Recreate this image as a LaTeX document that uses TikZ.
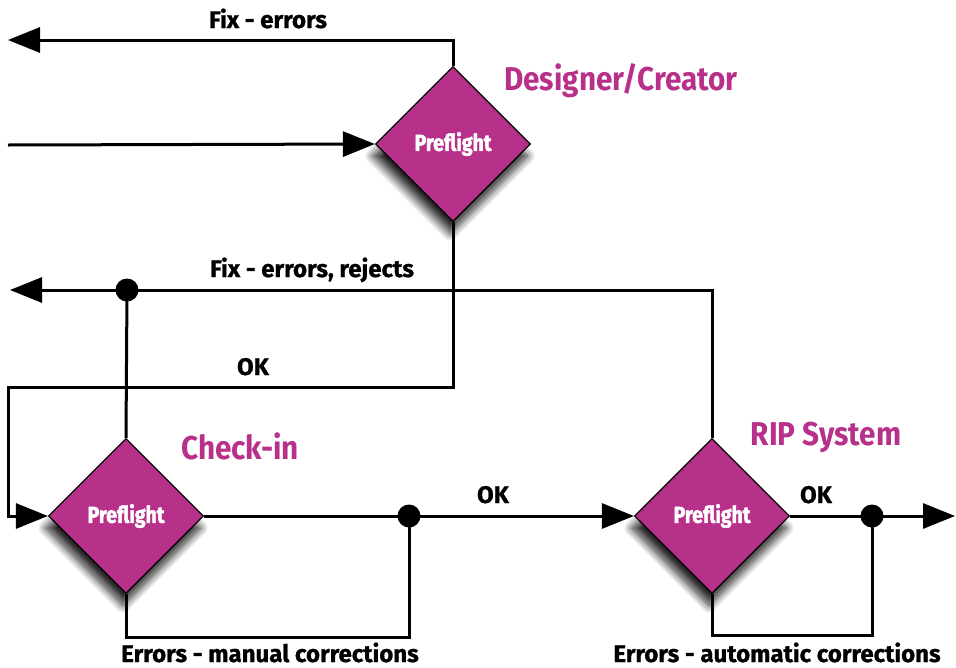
\documentclass[tikz,border=0pt]{standalone}
\usepackage{fontspec}
\usetikzlibrary{shapes.geometric,arrows.meta,shadows.blur}
\newfontfamily\labfont[FakeStretch=1.0,FakeBold=1]{Fira Sans}
\newfontfamily\ttlfont[FakeStretch=0.90]{Fira Sans}
\newfontfamily\pffont[FakeStretch=0.85,FakeBold=2]{Fira Sans}
\definecolor{mag}{RGB}{183,49,138}
\tikzset{
  conn/.style={line width=3pt,black},
  arr/.style={conn,-{Triangle[length=32pt,width=25pt]}},
  pf/.style={diamond,aspect=1,minimum width=155pt,minimum height=155pt,inner sep=0pt,
    fill=mag,draw=black,line width=1.2pt,text=white,
    font=\pffont\bfseries\fontsize{23}{23}\selectfont,
    blur shadow={shadow xshift=-3pt,shadow yshift=-12pt,shadow blur steps=10,shadow blur radius=8pt,shadow opacity=85}},
  dot/.style={circle,fill=black,minimum size=23pt,inner sep=0pt},
  lab/.style={font=\labfont\bfseries\fontsize{24}{24}\selectfont,inner sep=0pt,anchor=base},
  ttl/.style={font=\ttlfont\bfseries\fontsize{33}{33}\selectfont,text=mag,inner sep=0pt,anchor=base},
}
\begin{document}
\begin{tikzpicture}[x=1pt,y=-1pt]
\useasboundingbox (0,0) rectangle (956,667);
% diamonds
\node[pf] (d1) at (453,144) {Preflight};
\node[pf] (d2) at (126,516) {Preflight};
\node[pf] (d3) at (712,516) {Preflight};
% junction dots
\node[dot] (j1) at (127,290) {};
\node[dot] (j2) at (409,516) {};
\node[dot] (j3) at (872,516) {};
% free ends and corners
\coordinate (fixend) at (8,40);
\coordinate (inp) at (8,145);
\coordinate (okc) at (8,387);
\coordinate (rejend) at (10,290);
\coordinate (c2) at (409,637);
\coordinate (c3) at (872,635);
\coordinate (outp) at (955,516);
% connectors
\draw[arr] (d1.north) |- (fixend);
\draw[arr] (inp) -- (d1.west);
\draw[arr] (d1.south) |- (okc) |- (d2.west);
\draw[arr] (d3.north) |- (rejend);
\draw[conn] (d2.north) -- (j1.center);
\draw[arr] (d2.east) -- (d3.west);
\draw[conn] (d2.south) |- (c2) -- (j2.center);
\draw[arr] (d3.east) -- (outp);
\draw[conn] (d3.south) |- (c3) -- (j3.center);
% labels
\node[lab] (l1) at (268,28) {Fix - errors};
\node[lab] (l2) at (312,277) {Fix - errors, rejects};
\node[lab] (l3) at (253,375) {OK};
\node[lab] (l4) at (493,503) {OK};
\node[lab] (l5) at (816,503) {OK};
\node[lab] (l6) at (270,662) {Errors - manual corrections};
\node[lab] (l7) at (777,662) {Errors - automatic corrections};
\node[ttl] (t1) at (621,90) {Designer/Creator};
\node[ttl] (t2) at (240,459) {Check-in};
\node[ttl] (t3) at (826,445) {RIP System};
\end{tikzpicture}
\end{document}
